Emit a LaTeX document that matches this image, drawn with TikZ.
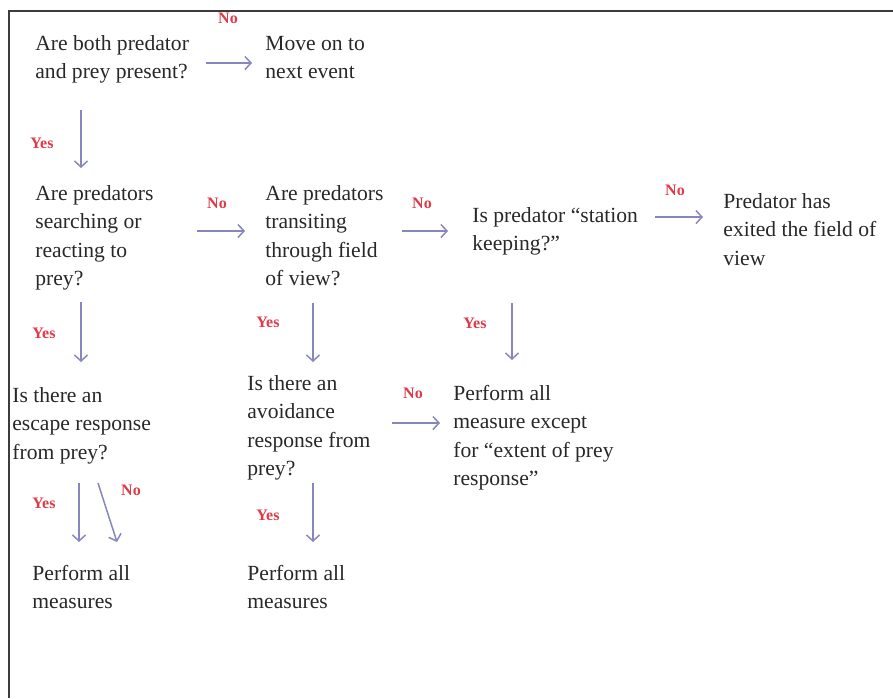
\documentclass[tikz,border=0pt]{standalone}
\usepackage{fontspec}
\setmainfont{Liberation Serif}
\usepackage{tikz}
\usetikzlibrary{calc,positioning,arrows.meta}
\definecolor{boxtext}{RGB}{40,40,40}
\definecolor{answerred}{RGB}{222,58,72}
\definecolor{flowline}{RGB}{135,135,190}
\definecolor{frameline}{RGB}{60,60,60}

\begin{document}
\begin{tikzpicture}[x=0.5pt, y=-0.5pt,
  question/.style = {anchor=base west, inner sep=0pt, align=left, text=boxtext, font=\fontsize{10.8}{14.25}\selectfont},
  answer/.style   = {text=answerred, inner sep=0pt, font=\fontsize{8}{9}\selectfont\bfseries},
  flow/.style     = {draw=flowline, line width=0.75pt, -{Straight Barb[length=3pt,width=6.5pt]}}]
\useasboundingbox (0,0) rectangle (893,698);
\draw[frameline, line width=1pt] (8,11) -- (893,11);
\draw[frameline, line width=1pt] (9,11) -- (9,698);

\node[question] (q1)      at (35,78.5)  {Are both predator\\and prey present?};
\node[question] (next)    at (265,78.5) {Move on to\\next event};
\node[question] (q2)      at (35,285.5) {Are predators\\searching or\\reacting to\\prey?};
\node[question] (q3)      at (265,285.5){Are predators\\transiting\\through field\\of view?};
\node[question] (q4)      at (472,250.5){Is predator “station\\keeping?”};
\node[question] (exitfov) at (723,265)  {Predator has\\exited the field of\\view};
\node[question] (q5)      at (12,459)   {Is there an\\escape response\\from prey?};
\node[question] (q6)      at (247,475.5){Is there an\\avoidance\\response from\\prey?};
\node[question] (part)    at (453,485.5){Perform all\\measure except\\for “extent of prey\\response”};
\node[question] (all1)    at (32,608.5) {Perform all\\measures};
\node[question] (all2)    at (247,608.5){Perform all\\measures};

\draw[flow] ([shift={(171,-15.5)}]q1.base west) -- node[answer, xshift=-0.5pt, yshift=22.5pt] {No} ([shift={(-13,-15.5)}]next.base west);
\draw[flow] ([shift={(46,31.5)}]q1.base west) -- node[answer, xshift=-19.5pt, yshift=-2pt] {Yes} ([shift={(46,-117.5)}]q2.base west);
\draw[flow] ([shift={(162,-54.5)}]q2.base west) -- node[answer, xshift=-2pt, yshift=14pt] {No} ([shift={(-20,-54.5)}]q3.base west);
\draw[flow] ([shift={(137,-54.5)}]q3.base west) -- node[answer, xshift=-1.5pt, yshift=14pt] {No} ([shift={(-24,-19.5)}]q4.base west);
\draw[flow] ([shift={(183,-33.5)}]q4.base west) -- node[answer, xshift=-2pt, yshift=13.5pt] {No} ([shift={(-20,-48)}]exitfov.base west);
\draw[flow] ([shift={(46,16.5)}]q2.base west) -- node[answer, xshift=-18.5pt, yshift=-0.5pt] {Yes} ([shift={(69,-97)}]q5.base west);
\draw[flow] ([shift={(48,17.5)}]q3.base west) -- node[answer, xshift=-22.5pt, yshift=5pt] {Yes} ([shift={(66,-113.5)}]q6.base west);
\draw[flow] ([shift={(40,52.5)}]q4.base west) -- node[answer, xshift=-18.5pt, yshift=4pt] {Yes} ([shift={(59,-125.5)}]part.base west);
\draw[flow] ([shift={(67,24)}]q5.base west) -- node[answer, xshift=-17.5pt, yshift=4.5pt] {Yes} ([shift={(47,-66.5)}]all1.base west);
\draw[flow] ([shift={(86,24)}]q5.base west) -- node[answer, xshift=11.75pt, yshift=11pt] {No} ([shift={(85,-66.5)}]all1.base west);
\draw[flow] ([shift={(66,7.5)}]q6.base west) -- node[answer, xshift=-22.5pt, yshift=-1.5pt] {Yes} ([shift={(66,-66.5)}]all2.base west);
\draw[flow] ([shift={(145,-52.5)}]q6.base west) -- node[answer, xshift=-1.5pt, yshift=15pt] {No} ([shift={(-13,-62.5)}]part.base west);
\end{tikzpicture}
\end{document}
